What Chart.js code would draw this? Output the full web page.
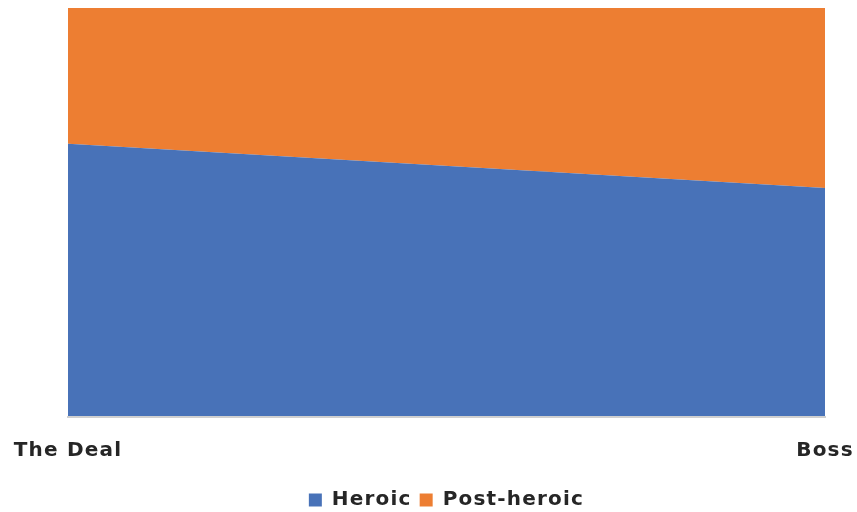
<!DOCTYPE html>
<html>
<head>
<meta charset="utf-8">
<script src="https://cdn.jsdelivr.net/npm/chart.js@4/dist/chart.umd.min.js"></script>
<style>
  html, body { margin: 0; padding: 0; background: #fff; }
  #wrap { width: 857px; height: 512px; }
</style>
</head>
<body>
<div id="wrap"><canvas id="myChart" width="857" height="512"></canvas></div>
<script>
// данные графика (100% stacked area)
const labels = ['The Deal', 'Boss'];
const heroic = [66.8, 56.0];
const postHeroic = [33.2, 44.0];

// разрядка букв как в оригинале
const spacing = {
    id: 'spacing',
    beforeLayout(c) { c.ctx.letterSpacing = '1.2px'; },
    beforeDraw(c) { c.ctx.letterSpacing = '1.2px'; }
};

const ctx = document.getElementById('myChart');
let chart = new Chart(ctx, {
    type: 'line',
    data: {
        labels: labels,
        datasets: [{
            label: 'Heroic',
            data: heroic,
            backgroundColor: '#4872b8',
            borderColor: '#4872b8',
            borderWidth: 0,
            pointRadius: 0,
            fill: 'origin'
        }, {
            label: 'Post-heroic',
            data: postHeroic,
            backgroundColor: '#ed7e32',
            borderColor: '#ed7e32',
            borderWidth: 0,
            pointRadius: 0,
            fill: '-1'
        }]
    },
    plugins: [spacing],
    options: {
        responsive: false,
        animation: false,
        layout: {
            padding: { left: 68, right: 32, top: 8, bottom: -8 }
        },
        plugins: {
            tooltip: { enabled: false },
            legend: {
                position: 'bottom',
                labels: {
                    boxWidth: 13,
                    boxHeight: 13,
                    padding: 8,
                    color: '#262626',
                    font: { family: 'DejaVu Sans', size: 20, weight: 'bold' }
                }
            }
        },
        scales: {
            x: {
                offset: false,
                grid: { display: false },
                border: { display: true, color: '#d0d0d0', width: 2, z: 1 },
                ticks: {
                    padding: 14,
                    color: '#262626',
                    maxRotation: 0,
                    font: { family: 'DejaVu Sans', size: 20, weight: 'bold' }
                },
                afterFit(s) {
                    s.paddingLeft = 0;
                    s.paddingRight = 0;
                    s.height += 5;
                }
            },
            y: {
                stacked: true,
                min: 0,
                max: 100,
                ticks: { display: false, stepSize: 10 },
                border: { display: false },
                grid: { color: '#d9d9d9', drawTicks: false }
            }
        }
    }
});
</script>
</body>
</html>
